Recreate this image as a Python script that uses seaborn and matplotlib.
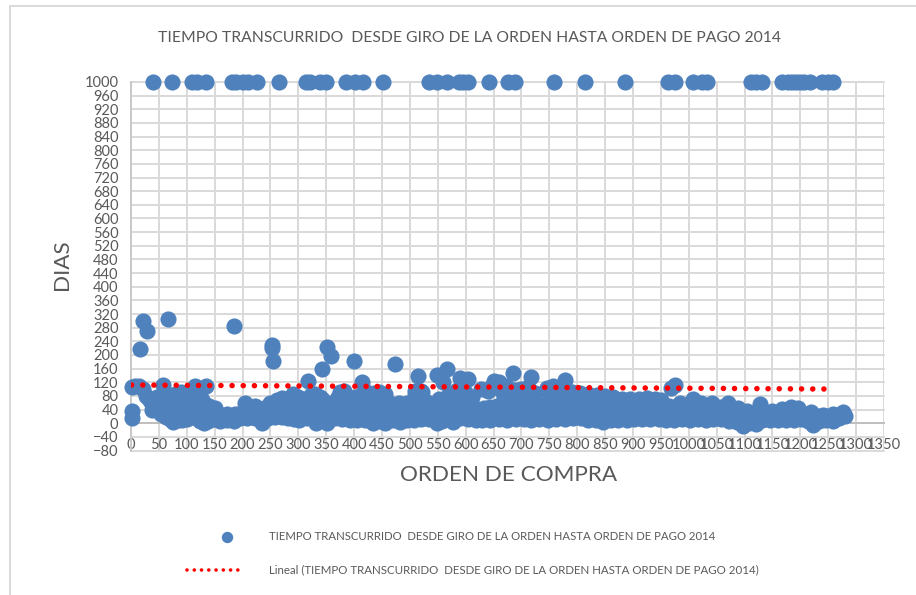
import matplotlib
matplotlib.use("Agg")
import matplotlib.pyplot as plt
import pandas as pd
import seaborn as sns
from matplotlib.lines import Line2D
from matplotlib.patches import Rectangle

# ordenes que quedaron en 1000 dias (fila de arriba)
orden_tope = [39, 73, 109, 118, 134, 181, 188, 201, 210, 226, 265, 314, 321, 339, 350, 385, 402, 416, 452,
              534, 549, 567, 588, 595, 604, 642, 676, 688, 758, 814, 886, 963, 975, 1008, 1024, 1033,
              1111, 1120, 1131, 1167, 1177, 1185, 1192, 1199, 1207, 1217, 1239, 1250, 1258]

# valores sueltos altos
orden_altos = [17, 22, 29, 66, 185, 253, 252, 254, 351, 358, 342, 400, 473, 514, 520, 548, 566, 560, 590, 605,
               650, 660, 640, 685, 717, 757, 778, 968, 975, 318, 415]
dias_altos = [217, 301, 270, 305, 284, 228, 220, 181, 222, 196, 160, 181, 173, 138, 95, 140, 160, 120, 132, 130,
              125, 122, 95, 148, 135, 110, 128, 103, 112, 125, 120]

# borde superior de la nube
orden_sup = [1, 1, 2, 8, 14, 22, 27, 32, 36, 46, 52, 57, 66, 72, 78, 84, 90, 96, 102, 108, 115, 120, 126, 135,
             128, 140, 150, 205, 222, 238, 250, 262, 270, 280, 290, 300, 310, 322, 330, 338, 375, 382, 395, 402,
             420, 435, 445, 455, 465, 480, 495, 510, 522, 530, 552, 570, 585, 598, 612, 628, 645, 660, 672, 690,
             700, 712, 725, 745, 760, 775, 790, 805, 820, 835, 850, 865, 880, 895, 910, 925, 940, 950, 965, 985,
             1007, 1022, 1041, 1058, 1071, 1088, 1105, 1128, 1150, 1168, 1184, 1196, 1220, 1240, 1258, 1276]
dias_sup = [37, 15, 105, 110, 108, 100, 80, 72, 62, 76, 65, 112, 56, 78, 85, 80, 90, 72, 85, 95, 108, 90, 75, 110,
            65, 50, 45, 60, 50, 46, 60, 68, 75, 70, 85, 78, 72, 82, 85, 78, 90, 95, 70, 78, 95, 88, 90, 85, 60,
            60, 58, 95, 92, 62, 72, 85, 98, 92, 76, 100, 105, 112, 110, 98, 100, 105, 88, 104, 100, 90, 92, 88,
            85, 82, 80, 76, 72, 70, 70, 73, 72, 68, 50, 58, 70, 58, 60, 48, 58, 46, 35, 55, 35, 42, 47, 44, 32,
            25, 27, 33]

# tapa sobre la franja alta, para cerrar huecos
orden_tapa = [60, 74, 88, 100, 112, 122, 262, 272, 282, 292, 302, 312, 322, 332, 342, 372, 382, 392, 412, 422, 432,
              442, 452, 510, 520, 556, 566, 576, 586, 596, 664, 674, 684, 694, 704, 714, 750, 762, 774, 786, 798,
              810, 822, 834, 846, 858, 870, 882]
dias_tapa = [70, 76, 80, 76, 82, 78, 62, 70, 68, 76, 72, 68, 74, 76, 70, 78, 84, 66, 84, 82, 78, 80, 76, 84, 80,
             62, 74, 80, 86, 82, 96, 100, 98, 90, 92, 90, 90, 88, 82, 82, 84, 80, 78, 76, 72, 68, 66, 62]

# franja alta de relleno
orden_alta = [40, 50, 60, 70, 80, 90, 100, 110, 120, 130, 256, 266, 276, 286, 296, 306, 316, 326, 336, 346, 356,
              366, 376, 386, 396, 406, 416, 426, 436, 446, 456, 668, 680, 692, 704, 716, 752, 764, 776, 788, 800,
              812, 824, 836, 848, 860, 872, 884, 896, 908, 920, 932, 944]
dias_alta = [56, 60, 54, 62, 66, 64, 68, 66, 70, 58, 46, 52, 56, 60, 62, 58, 60, 62, 64, 60, 58, 60, 64, 68, 62, 58,
             66, 68, 66, 64, 62, 78, 74, 70, 72, 66, 76, 72, 70, 72, 70, 68, 66, 66, 62, 60, 58, 54, 50, 52, 52, 50, 48]

# franja media
orden_med = [38, 48, 58, 68, 76, 86, 96, 106, 116, 126, 136, 146, 158, 172, 186, 198, 210, 224, 236, 248, 260, 272,
             284, 296, 308, 320, 332, 344, 356, 368, 380, 392, 404, 416, 428, 440, 452, 464, 476, 488, 500, 512,
             524, 536, 548, 560, 572, 584, 596, 608, 620, 632, 644, 656, 668, 680, 692, 704, 716, 728, 740, 752,
             764, 776, 788, 800, 812, 824, 836, 848, 860, 872, 884, 896, 908, 920, 932, 944, 956, 968, 980, 992,
             1004, 1016, 1028, 1040, 1052, 1064, 1076, 1088, 1100, 1112, 1124, 1136, 1148, 1160, 1172, 1184, 1196,
             1208, 1220, 1232, 1244, 1256, 1268, 1278]
dias_med = [38, 48, 36, 44, 50, 42, 54, 48, 50, 44, 40, 34, 24, 26, 28, 30, 36, 40, 32, 42, 46, 48, 44, 46, 40, 44,
            42, 46, 50, 48, 42, 46, 44, 48, 50, 46, 48, 44, 42, 46, 44, 42, 46, 48, 50, 46, 48, 44, 46, 44, 42, 46,
            48, 50, 52, 56, 54, 50, 48, 50, 54, 56, 58, 56, 54, 56, 54, 52, 50, 52, 48, 46, 44, 46, 44, 42, 40, 42,
            38, 36, 38, 40, 42, 40, 38, 40, 36, 34, 32, 28, 26, 24, 28, 30, 28, 30, 32, 30, 28, 26, 24, 22, 22, 20, 24, 24]

# franja baja de relleno
orden_baja = [54, 66, 78, 90, 102, 114, 126, 138, 150, 205, 218, 231, 244, 257, 270, 283, 296, 309, 322, 335, 348,
              361, 374, 387, 400, 413, 426, 439, 452, 465, 478, 491, 504, 517, 530, 543, 556, 569, 582, 595, 608,
              621, 634, 647, 660, 673, 686, 699, 712, 725, 738, 751, 764, 777, 790, 803, 816, 829, 842, 855, 868,
              881, 894, 907, 920, 933, 946, 959, 972, 985, 998, 1011, 1024, 1037, 1050, 1063, 1076, 1089, 1102]
dias_baja = [26, 24, 28, 26, 30, 28, 26, 24, 22, 26, 24, 30, 26, 28, 30, 32, 28, 30, 26, 28, 30, 26, 28, 30, 26, 28,
             24, 26, 28, 26, 24, 26, 28, 30, 28, 26, 24, 28, 30, 28, 30, 28, 26, 28, 30, 28, 30, 28, 30, 32, 30, 28,
             30, 32, 30, 28, 30, 28, 26, 28, 26, 28, 26, 28, 26, 28, 26, 24, 22, 24, 26, 28, 26, 28, 24, 26, 24, 22, 18]

# borde inferior de la nube
orden_inf = [62, 70, 76, 84, 92, 100, 110, 118, 124, 130, 138, 148, 160, 172, 184, 196, 208, 222, 235, 246, 258, 270,
             282, 292, 302, 316, 331, 343, 352, 366, 378, 392, 406, 420, 433, 446, 455, 470, 482, 494, 508, 520, 534,
             548, 558, 577, 590, 604, 618, 630, 644, 660, 675, 690, 704, 718, 732, 748, 762, 778, 792, 806, 820, 834,
             846, 860, 874, 889, 902, 916, 930, 946, 960, 974, 988, 1002, 1016, 1030, 1044, 1058, 1072, 1086, 1097,
             1108, 1120, 1132, 1146, 1160, 1174, 1188, 1202, 1214, 1223, 1234, 1246, 1258, 1270, 1280]
dias_inf = [18, 12, 4, 10, 8, 12, 18, 14, 6, 1, 6, 12, 6, 8, 6, 14, 14, 16, 0, 16, 18, 18, 16, 12, 10, 14, 2, 12, 2,
            14, 12, 10, 8, 8, 2, 6, 2, 8, 4, 10, 10, 12, 12, 1, 6, 3, 14, 12, 10, 8, 10, 12, 8, 12, 12, 10, 12, 10,
            12, 12, 14, 14, 10, 8, 3, 10, 10, 8, 12, 12, 12, 12, 8, 8, 12, 10, 12, 10, 12, 12, 6, 4, -8, 2, -2, 8,
            10, 10, 10, 8, 12, 6, -5, 6, 8, 6, 16, 20]

# tendencia lineal
orden_tend = [1, 1262]
dias_tend = [112, 100]

titulo = "TIEMPO TRANSCURRIDO  DESDE GIRO DE LA ORDEN HASTA ORDEN DE PAGO 2014"
ticks_x = list(range(0, 1351, 50))
ticks_y = list(range(-80, 1001, 40))

AZUL = "#4F81BD"
GRIS = "#595959"
W, H = 916, 595

sns.set_theme(style="white")
plt.rcParams["font.family"] = ["Lato", "DejaVu Sans"]

puntos = pd.DataFrame({
    "orden": orden_tope + orden_altos + orden_sup + orden_tapa + orden_alta + orden_med + orden_baja + orden_inf,
    "dias": [1000] * len(orden_tope) + dias_altos + dias_sup + dias_tapa + dias_alta + dias_med + dias_baja + dias_inf,
})

fig = plt.figure(figsize=(W / 100, H / 100), dpi=100, facecolor="white")
ax = fig.add_axes([131 / W, 1 - 450.5 / H, (884 - 131) / W, (450.5 - 82) / H])

sns.scatterplot(data=puntos, x="orden", y="dias", color=AZUL, s=135, linewidth=0, ax=ax, clip_on=False, zorder=3)
sns.lineplot(x=orden_tend, y=dias_tend, color="#FF0000", lw=4, ax=ax, zorder=4,
             linestyle=(0, (0.01, 2.0)), dash_capstyle="round", errorbar=None)

ax.set_xlim(0, 1350)
ax.set_ylim(-80, 1000)
ax.set_xticks(ticks_x)
ax.set_yticks(ticks_y)
ax.grid(True, color="#D9D9D9", lw=1.4)
for g in ax.get_xgridlines() + ax.get_ygridlines():
    g.set_clip_on(False)
ax.set_axisbelow(True)
for lado in ["top", "right"]:
    ax.spines[lado].set_visible(False)
ax.spines["left"].set_color("#C8C8C8")
ax.spines["left"].set_linewidth(1.4)
ax.spines["bottom"].set_position(("data", 0))
ax.spines["bottom"].set_color("#BFBFBF")
ax.spines["bottom"].set_linewidth(1.4)
ax.tick_params(axis="x", length=0, pad=10.5, labelsize=10.5, labelcolor=GRIS)
ax.tick_params(axis="y", length=0, pad=9, labelsize=10.5, labelcolor=GRIS)
ax.set_xlabel("")
ax.set_ylabel("")

# textos de la figura
fig.text(469.5 / W, 1 - 38 / H, titulo, ha="center", va="center", fontsize=11.3, color=GRIS)
fig.text(508.5 / W, 1 - 475 / H, "ORDEN DE COMPRA", ha="center", va="center", fontsize=16.2, color=GRIS)
fig.text(62 / W, 1 - 265 / H, "DIAS", ha="center", va="center", rotation=90, fontsize=16.2, color=GRIS)

# leyenda dibujada a mano, como en el original
fig.add_artist(Line2D([227 / W], [1 - 537 / H], marker="o", ms=8.2, color=AZUL, mew=0, ls="none"))
fig.add_artist(Line2D([187 / W, 240 / W], [1 - 569.5 / H, 1 - 569.5 / H], color="#FF0000", lw=2.6,
                      linestyle=(0, (0.01, 2.0)), dash_capstyle="round"))
fig.text(269 / W, 1 - 537 / H, titulo, ha="left", va="center", fontsize=8.2, color=GRIS)
fig.text(269 / W, 1 - 569.5 / H, "Lineal (" + titulo + ")", ha="left", va="center", fontsize=8.3, color=GRIS)

# marco del grafico
fig.add_artist(Rectangle((10 / W, -0.05), 1, 1.05 - 6 / H, fill=False, ec="#D9D9D9", lw=1.4, transform=fig.transFigure))

fig.savefig("out.png", dpi=100)
